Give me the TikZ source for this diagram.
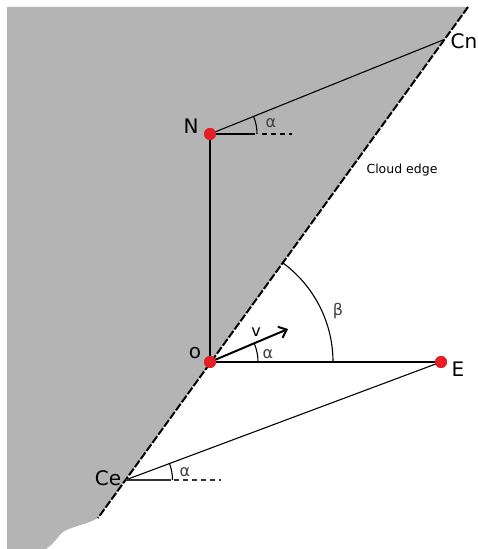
\documentclass[tikz,border=0pt]{standalone}
\usepackage{fontspec}
\setmainfont{DejaVu Sans}
\usetikzlibrary{arrows.meta}
\definecolor{cloud}{RGB}{180,180,180}
\definecolor{dotred}{RGB}{230,30,40}
\begin{document}
\begin{tikzpicture}[x=1pt,y=1pt,
  thickline/.style={line width=2.4pt},
  thinline/.style={line width=1.1pt},
  edgeline/.style={line width=2pt,dash pattern=on 8pt off 2pt},
  refdash/.style={line width=1.1pt,dash pattern=on 5pt off 4pt},
  reddot/.style={circle,fill=dotred,inner sep=0pt,minimum size=12pt},
  biglabel/.style={font=\fontsize{20}{20}\selectfont},
  greek/.style={font=\fontsize{16}{16}\selectfont,text=black!75},
]
\useasboundingbox (0,0) rectangle (478,549);
% cloud
\fill[cloud] (7,542) -- (468,542) -- (98,31) .. controls (88,25) and (70,22) .. (63,17)
  .. controls (57,12) and (55,6) .. (47,1) -- (47,0) -- (7,0) -- cycle;
% points
\coordinate (TopE) at (468,542);
\coordinate (BotE) at (98,31);
\node[reddot] (N) at (210,415) {};
\node[reddot] (O) at (210,187) {};
\node[reddot] (E) at (441,187) {};
\coordinate (Cn) at (443,509);
\coordinate (Ce) at (125.5,69);
\coordinate (V) at (288,220);
% cloud edge
\draw[edgeline] (TopE) -- (BotE);
% lines
\draw[thickline] (N.center) -- (O.center);
\draw[thickline] (O.center) -- (E.center);
\draw[thinline] (N.center) -- (Cn);
\draw[thinline] (E.center) -- (Ce);
% reference at N
\draw[thinline] (N.center) -- ++(45,0);
\draw[refdash] ([xshift=52pt]N.center) -- ++(30,0);
\draw[thinline] ([xshift=47pt]N.center) arc[start angle=0,end angle=22,radius=47];
% reference at Ce
\draw[thinline,black!80] (Ce) -- ++(45,0);
\draw[refdash,black!80] ([xshift=48pt]Ce) -- ++(47,0);
\draw[thinline] ([xshift=47pt]Ce) arc[start angle=0,end angle=20.5,radius=47];
% velocity
\draw[line width=2pt,-{Straight Barb[length=7pt,width=12pt]}] (O.center) -- (V);
\draw[thinline] ([xshift=48pt]O.center) arc[start angle=0,end angle=23,radius=48];
% beta
\draw[thinline] ([xshift=123pt]O.center) arc[start angle=0,end angle=54,radius=123];
% dots on top
\node[reddot] at (N) {};
\node[reddot] at (O) {};
\node[reddot] at (E) {};
% labels
\node[biglabel] (lN) at (191,423) {N};
\node[biglabel] (lCn) at (464,508) {Cn};
\node[biglabel] (lO) at (195,196) {o};
\node[biglabel] (lE) at (458,180) {E};
\node[biglabel] (lCe) at (108,71) {Ce};
\node[font=\fontsize{12.5}{13}\selectfont] (lCloud) at (402,379) {Cloud edge};
\node[font=\fontsize{16}{16}\selectfont] (lv) at (256,217) {v};
\node[greek] (a1) at (271,426) {α};
\node[greek] (a2) at (268,195) {α};
\node[greek] (a3) at (185,77) {α};
\node[greek] (b1) at (338,238) {β};
\end{tikzpicture}
\end{document}
